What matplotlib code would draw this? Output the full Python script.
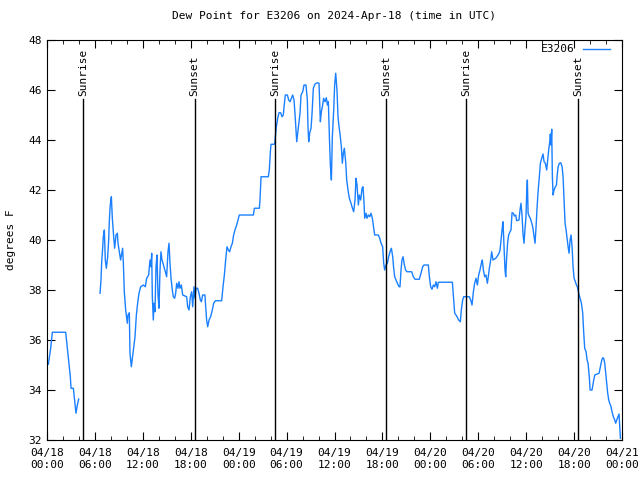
import datetime as dt
import numpy as np
import matplotlib
matplotlib.use("Agg")
import matplotlib.pyplot as plt
import matplotlib.dates as mdates

# hours since 2024-04-18 00:00 UTC, dew point in F (nan = gap)
hours = [0.17, 0.46, 0.67, 2.34, 2.55, 2.75, 2.92, 3.01, 3.30, 3.46, 3.63, 3.80, 3.97,
         5.3,
         6.64, 6.76, 6.85, 6.97, 7.05, 7.18, 7.30, 7.43, 7.60, 7.72, 7.81, 7.89, 7.97, 8.06,
         8.18, 8.35, 8.47, 8.64, 8.81, 8.89, 9.06, 9.22, 9.39, 9.47, 9.56, 9.68, 9.85, 10.06,
         10.14, 10.31, 10.39, 10.56, 10.69, 10.81, 11.02, 11.19, 11.35, 11.52, 11.73, 12.06,
         12.31, 12.48, 12.73, 12.90, 13.02, 13.11, 13.19, 13.31, 13.40, 13.52, 13.65, 13.77,
         13.90, 14.02, 14.15, 14.27, 14.40, 14.53, 14.69, 14.82, 14.98, 15.15, 15.28, 15.40,
         15.53, 15.69, 15.82, 15.99, 16.11, 16.24, 16.40, 16.53, 16.65, 16.82, 16.99, 17.49,
         17.61, 17.78, 17.95, 18.12, 18.24, 18.41, 18.53, 18.66, 18.87, 19.03, 19.20, 19.33,
         19.49, 19.78, 19.87, 19.99, 20.12, 20.29, 20.49, 20.70, 20.87, 21.08, 21.87, 22.04,
         22.21, 22.37, 22.54, 22.71, 22.87, 23.04, 23.21, 23.37, 23.54, 23.75, 23.92, 24.08,
         25.84, 25.97, 26.59, 26.67, 26.80, 27.71, 27.84, 27.97, 28.05, 28.51, 28.59, 28.72,
         28.89, 29.05, 29.26, 29.43, 29.59, 29.68, 29.84, 30.10, 30.26, 30.43, 30.60, 30.76,
         30.93, 31.05, 31.18, 31.27, 31.39, 31.52, 31.68, 31.81, 32.02, 32.18, 32.43, 32.60,
         32.68, 32.77, 32.89, 33.06, 33.19, 33.35, 33.56, 33.85, 34.06, 34.14, 34.23, 34.35,
         34.48, 34.64, 34.81, 34.98, 35.11, 35.23, 35.36, 35.48, 35.61, 35.73, 35.90, 36.02,
         36.15, 36.31, 36.44, 36.57, 36.73, 36.86, 36.98, 37.11, 37.23, 37.40, 37.53, 37.69,
         37.86, 38.07, 38.19, 38.40, 38.57, 38.69, 38.82, 38.99, 39.11, 39.28, 39.45, 39.57,
         39.70, 39.78, 39.95, 40.07, 40.24, 40.41, 40.57, 40.74, 40.91, 41.03, 41.49, 41.66,
         41.83, 42.03, 42.16, 42.28, 42.45, 42.62, 42.78, 42.95, 43.12, 43.29, 43.41, 43.54,
         43.70, 43.87, 44.08, 44.20, 44.33, 44.45, 44.58, 44.75, 44.91, 45.08, 45.67, 45.87,
         46.08, 46.62, 46.83, 47.04, 47.21, 47.75, 47.88, 48.04, 48.21, 48.38, 48.54, 48.71,
         48.88, 49.00, 50.76, 50.89, 51.05, 51.30, 51.55, 51.76, 51.88, 52.05, 52.18, 52.88,
         53.05, 53.22, 53.39, 53.55, 53.72, 53.89, 54.05, 54.22, 54.39, 54.51, 54.64, 54.81,
         54.97, 55.14, 55.26, 55.39, 55.56, 55.68, 55.85, 56.19, 56.39, 56.60, 56.73, 56.89,
         57.02, 57.10, 57.23, 57.35, 57.44, 57.56, 57.69, 57.81, 57.98, 58.10, 58.23, 58.40,
         58.52, 58.69, 58.81, 59.10, 59.23, 59.35, 59.48, 59.60, 59.73, 59.86, 59.98, 60.07,
         60.15, 60.24, 60.40, 60.52, 60.65, 60.82, 60.99, 61.11, 61.24, 61.36, 61.49, 61.65,
         61.78, 61.95, 62.11, 62.24, 62.40, 62.57, 62.69, 62.82, 62.95, 63.03, 63.11, 63.20,
         63.28, 63.37, 63.49, 63.66, 63.79, 63.87, 64.00, 64.16, 64.33, 64.50, 64.62, 64.74,
         64.87, 65.00, 65.12, 65.25, 65.37, 65.50, 65.62, 65.75, 65.87, 66.00, 66.16, 66.29,
         66.41, 66.58, 66.75, 66.92, 67.08, 67.21, 67.33, 67.50, 67.63, 67.75, 67.92, 68.00,
         68.25, 68.42, 68.59, 69.13, 69.26, 69.47, 69.59, 69.71, 69.84, 69.96, 70.09, 70.21,
         70.34, 70.46, 70.63, 70.75, 70.92, 71.09, 71.21, 71.34, 71.50, 71.63, 71.71, 71.80]

dewpt = [35.03, 35.67, 36.31, 36.31, 35.67, 35.07, 34.53, 34.07, 34.07, 33.60, 33.07, 33.40, 33.64,
         np.nan,
         37.87, 38.40, 39.13, 39.67, 40.13, 40.40, 39.20, 38.87, 39.33, 40.00, 40.80, 41.27, 41.53, 41.73,
         40.87, 40.13, 39.67, 40.20, 40.27, 39.87, 39.53, 39.20, 39.53, 39.67, 39.07, 37.93, 37.20, 36.67,
         37.00, 37.09, 35.47, 34.93, 35.27, 35.60, 36.13, 37.00, 37.47, 37.87, 38.13, 38.20,
         38.13, 38.47, 38.60, 39.20, 38.93, 39.47, 37.73, 36.80, 37.47, 37.13, 38.93, 39.40,
         37.80, 37.27, 38.80, 39.53, 39.20, 39.07, 38.87, 38.73, 38.53, 39.53, 39.87, 39.07,
         38.47, 38.00, 37.73, 37.67, 37.87, 38.27, 38.07, 38.33, 38.07, 38.20, 37.80, 37.73,
         37.33, 37.20, 37.73, 37.93, 37.33, 38.13, 37.67, 38.07, 38.07, 37.87, 37.60, 37.53,
         37.80, 37.80, 37.33, 36.80, 36.53, 36.80, 36.93, 37.20, 37.47, 37.57, 37.57, 38.13,
         38.60, 39.20, 39.73, 39.60, 39.53, 39.73, 39.87, 40.20, 40.40, 40.60, 40.80, 41.00,
         41.00, 41.27, 41.27, 41.60, 42.53, 42.53, 42.80, 43.53, 43.83, 43.83, 44.13, 44.53,
         44.87, 45.09, 45.09, 44.93, 45.00, 45.33, 45.80, 45.80, 45.60, 45.53, 45.67, 45.80,
         45.60, 45.07, 44.40, 43.93, 44.27, 44.67, 45.07, 45.80, 45.93, 46.20, 46.20, 45.60,
         44.53, 43.93, 44.27, 44.47, 45.07, 46.07, 46.24, 46.29, 46.27, 45.53, 44.73, 45.13,
         45.33, 45.67, 45.53, 45.69, 45.40, 45.53, 44.13, 43.00, 42.40, 44.13, 45.20, 46.20,
         46.67, 46.00, 44.93, 44.53, 44.13, 43.73, 43.07, 43.47, 43.67, 43.13, 42.40, 42.00,
         41.67, 41.47, 41.33, 41.13, 41.60, 42.47, 42.20, 41.40, 41.80, 41.60, 42.07, 42.13,
         41.47, 40.87, 41.07, 40.87, 41.00, 40.93, 41.07, 40.87, 40.47, 40.20, 40.20, 40.07,
         39.87, 39.73, 39.07, 38.80, 39.00, 39.07, 39.33, 39.53, 39.67, 39.33, 38.87, 38.53,
         38.40, 38.27, 38.13, 38.13, 38.80, 39.20, 39.33, 39.00, 38.80, 38.73, 38.73, 38.53,
         38.43, 38.43, 38.67, 38.93, 39.00, 39.00, 38.53, 38.13, 38.03, 38.20, 38.13, 38.33,
         38.07, 38.31, 38.31, 37.73, 37.07, 36.96, 36.80, 36.73, 37.20, 37.60, 37.73, 37.73,
         37.60, 37.40, 37.93, 38.27, 38.47, 38.20, 38.60, 38.80, 39.07, 39.20, 38.80, 38.53,
         38.60, 38.27, 38.53, 38.87, 39.20, 39.53, 39.20, 39.27, 39.36, 39.47, 39.60, 40.13,
         40.53, 40.73, 39.73, 38.80, 38.53, 39.33, 39.93, 40.20, 40.33, 40.40, 41.09, 41.07,
         40.96, 41.00, 40.77, 40.80, 41.20, 41.47, 41.00, 40.27, 39.87, 40.47, 40.93, 41.93,
         42.40, 41.07, 40.93, 40.87, 40.73, 40.53, 40.13, 39.87, 40.53, 41.27, 41.93, 42.53,
         43.07, 43.27, 43.44, 43.13, 43.07, 42.80, 43.20, 43.60, 43.93, 44.24, 43.80, 44.43,
         42.53, 41.80, 42.00, 42.13, 42.20, 42.53, 42.93, 43.07, 43.09, 42.93, 42.53, 41.60,
         40.67, 40.40, 40.07, 39.73, 39.47, 40.00, 40.20, 39.73, 38.93, 38.47, 38.33, 38.20,
         38.13, 37.87, 37.67, 37.47, 37.07, 36.27, 35.67, 35.53, 35.20, 35.07, 34.47, 34.00,
         34.00, 34.33, 34.60, 34.67, 34.87, 35.20, 35.29, 35.27, 35.07, 34.67, 34.27, 33.87,
         33.60, 33.47, 33.33, 33.13, 32.93, 32.80, 32.67, 32.80, 32.93, 33.04, 32.60, 32.07]

sun_hours = [4.5, 18.5, 28.55, 42.45, 52.47, 66.49]
sun_labels = ["Sunrise", "Sunset", "Sunrise", "Sunset", "Sunrise", "Sunset"]

start = dt.datetime(2024, 4, 18)
times = [start + dt.timedelta(hours=h) for h in hours]
sun_times = [start + dt.timedelta(hours=h) for h in sun_hours]

plt.rcParams['font.family'] = 'DejaVu Sans Mono'
plt.rcParams['font.size'] = 8

fig = plt.figure(figsize=(6.4, 4.8), dpi=100)
ax = fig.add_axes([47/640, 40/480, 575/640, 400/480])

ax.plot(times, dewpt, color='#1a80ff', lw=1, label='E3206')

for t, lab in zip(sun_times, sun_labels):
    ax.plot([t, t], [32, 45.63], color='black', lw=1)
    ax.text(t, 45.75, lab, rotation=90, ha='center', va='bottom', fontsize=8)

ax.set_xlim(start, start + dt.timedelta(days=3))
ax.set_ylim(32, 48)
ax.set_yticks(np.arange(32, 49, 2))
ax.xaxis.set_major_locator(mdates.HourLocator(byhour=[0, 6, 12, 18]))
ax.xaxis.set_minor_locator(mdates.HourLocator(byhour=range(0, 24, 2)))
ax.xaxis.set_major_formatter(mdates.DateFormatter('%m/%d\n%H:%M'))
ax.tick_params(which='both', direction='in', top=True, right=True)
ax.tick_params(which='major', length=6)
ax.tick_params(which='minor', length=3)
ax.tick_params(axis='x', pad=6)

ax.set_ylabel('degrees F', labelpad=9)
ax.set_title('Dew Point for E3206 on 2024-Apr-18 (time in UTC)', fontsize=8, pad=15)
ax.legend(loc='upper right', bbox_to_anchor=(0.987, 1.0), frameon=False,
          markerfirst=False, handlelength=2.4, borderaxespad=0, fontsize=8)

fig.savefig('out.png', dpi=100)
